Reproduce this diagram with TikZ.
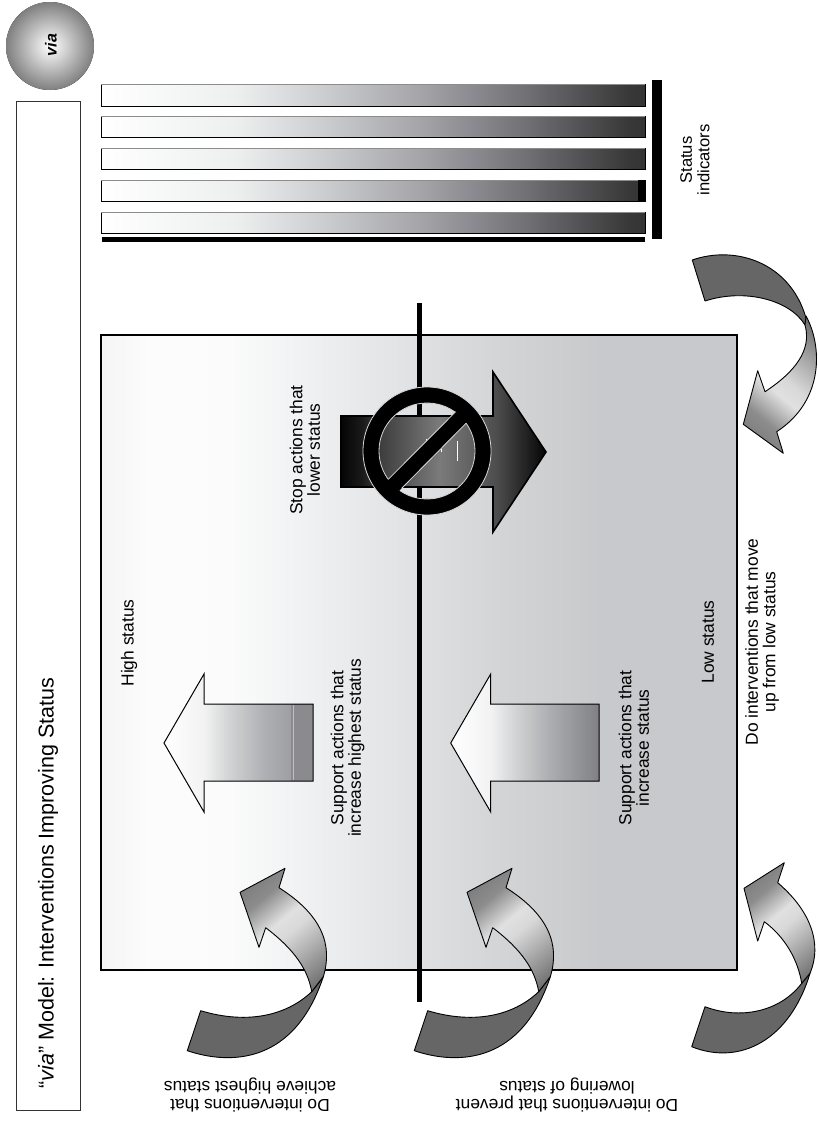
\documentclass[tikz,border=0pt]{standalone}
\usepackage{fontspec}
\setmainfont{Liberation Sans}
% pgf maps a path's box onto the 25bp..75bp part of a shading
\pgfdeclarehorizontalshading{boxshade}{100bp}{rgb(0bp)=(.96,.96,.96); rgb(25bp)=(.96,.96,.96); rgb(29bp)=(.99,.99,.99); rgb(35bp)=(.985,.985,.985); rgb(41bp)=(.94,.945,.95); rgb(50bp)=(.875,.88,.885); rgb(56bp)=(.83,.835,.84); rgb(64bp)=(.785,.79,.80); rgb(100bp)=(.785,.79,.80)}
\pgfdeclarehorizontalshading{barshade}{100bp}{rgb(0bp)=(1,1,1); rgb(25bp)=(1,1,1); rgb(37.5bp)=(.93,.935,.935); rgb(46.5bp)=(.78,.785,.795); rgb(54bp)=(.65,.65,.67); rgb(64bp)=(.44,.44,.46); rgb(73.5bp)=(.22,.22,.22); rgb(75bp)=(.2,.2,.2); rgb(100bp)=(.2,.2,.2)}
\pgfdeclarehorizontalshading{stopshade}{100bp}{rgb(0bp)=(.02,.02,.02); rgb(25bp)=(.02,.02,.02); rgb(30bp)=(.1,.1,.1); rgb(35bp)=(.25,.25,.25); rgb(49bp)=(.48,.48,.48); rgb(63bp)=(.3,.3,.3); rgb(75bp)=(.02,.02,.02); rgb(100bp)=(.02,.02,.02)}
\pgfdeclarehorizontalshading{upshade}{100bp}{rgb(0bp)=(1,1,1); rgb(25bp)=(1,1,1); rgb(38.5bp)=(.95,.95,.95); rgb(47bp)=(.82,.825,.83); rgb(58bp)=(.69,.695,.71); rgb(67.5bp)=(.62,.62,.64); rgb(67.6bp)=(.54,.54,.56); rgb(100bp)=(.54,.54,.56)}
\pgfdeclarehorizontalshading{upshadeb}{100bp}{rgb(0bp)=(1,1,1); rgb(25bp)=(1,1,1); rgb(38.5bp)=(.95,.95,.95); rgb(47bp)=(.82,.825,.83); rgb(58bp)=(.68,.685,.70); rgb(75bp)=(.5,.5,.52); rgb(100bp)=(.5,.5,.52)}
\pgfdeclarehorizontalshading{curveshade}{100bp}{rgb(0bp)=(.45,.45,.45); rgb(24bp)=(.5,.5,.5); rgb(32bp)=(.55,.55,.55); rgb(45bp)=(.88,.88,.88); rgb(52bp)=(.85,.85,.85); rgb(62bp)=(.7,.7,.7); rgb(79bp)=(.43,.43,.43); rgb(100bp)=(.43,.43,.43)}
\definecolor{curvedark}{gray}{.4}
\definecolor{halo}{gray}{.85}
\tikzset{
  x=1pt,y=-1pt,
  lbl/.style={font=\fontsize{17.4}{17.5}\selectfont,align=center,inner sep=0pt,text=black},
  statusbar/.style={draw=black,line width=1pt,shading=barshade},
  bartop/.style={draw=black!45,line width=1pt},
  curveoutline/.style={draw=black,line width=.9pt,line join=round},
  uparrow/.style={draw=black,line width=1pt,line join=miter},
}
\newcommand{\bentarrow}[1]{%
  \begin{scope}[#1]
    \path[curveoutline,fill=curvedark]
      (187.3,1050.7) .. controls (233,1066) and (295,1062) .. (323.3,976.7)
      -- (311.7,991.7) .. controls (285,1017) and (245,1024) .. (200.7,1010.7) -- cycle;
    \path[curveoutline,shading=curveshade,shading angle=-50]
      (323.3,976.7) .. controls (333,945) and (322,915) .. (279,887.7)
      -- (285,868.3) -- (240,892.3) -- (259,947.3) -- (265.7,927.7)
      .. controls (295,950) and (308,970) .. (311.7,991.7) -- cycle;
  \end{scope}}
\begin{document}
\begin{tikzpicture}
\useasboundingbox (0,0) rectangle (817,1122);
\fill[white] (0,0) rectangle (817,1122);

% via badge
\fill[inner color=white,outer color=black!50] (50,46) circle (44);
\node[rotate=90,font=\fontsize{16}{18}\selectfont\bfseries\itshape,inner sep=0pt] (badge) at (51,45) {via};

% title
\node[draw=black!80,line width=.9pt,minimum width=64pt,minimum height=1009pt,inner sep=0pt] (titlebox) at (48,605.5) {};
\node[rotate=90,font=\fontsize{21.5}{24}\selectfont,inner sep=0pt] (title) at (48,883) {“\textit{via}” Model: Interventions Improving Status};

% status bars
\path[statusbar] (101,84) rectangle (645,106);
\draw[bartop] (101,84) -- (645,84);
\path[statusbar] (101,116) rectangle (645,137);
\draw[bartop] (101,116) -- (645,116);
\path[statusbar] (101,148) rectangle (645,169);
\draw[bartop] (101,148) -- (645,148);
\path[statusbar] (101,180) rectangle (645,201);
\draw[bartop] (101,180) -- (645,180);
\fill[black] (638,180) rectangle (645,201);
\path[statusbar] (101,212) rectangle (645,233);
\draw[bartop] (101,212) -- (645,212);
\fill[black] (102,237) rectangle (645,241.5);
\fill[black] (652,80) rectangle (662,239);
\node[lbl,rotate=90,font=\fontsize{16.6}{17.5}\selectfont] (indic) at (695,160) {Status\\indicators};

% main field
\path[draw=black,line width=2.4pt,shading=boxshade] (101,335) rectangle (737,970);
\draw[black,line width=5pt] (419,303) -- (419,1002);

% upward block arrows
\path[uparrow,shading=upshade] (164,743) -- (204,674) -- (204,704) -- (313,704) -- (313,781) -- (204,781) -- (204,812) -- cycle;
\draw[white!75!black,line width=.6pt] (293,705) -- (293,780);
\path[uparrow,shading=upshadeb] (450.7,743) -- (490.7,674) -- (490.7,704) -- (599,704) -- (599,781) -- (490.7,781) -- (490.7,812) -- cycle;

% big stopped arrow
\path[draw=black,line width=1.6pt,shading=stopshade,line join=miter] (341,416) -- (493,416) -- (493,372) -- (546,452) -- (493,532) -- (493,487) -- (341,487) -- cycle;
\draw[white,line width=.6pt] (457.3,441) -- (457.3,461);
\draw[white,line width=.6pt] (441.7,449) -- (441.7,451.5);
\draw[white,line width=.6pt] (426,439) -- (426,441);

% prohibition sign
\path[fill=black,draw=halo,line width=.8pt,even odd rule] (427,451) circle (64) (427,451) circle (48);
\fill[black] (386,481.5) -- (455.7,411.7) -- (468,421) -- (399,491) -- cycle;
\draw[halo,line width=.8pt] (388.3,479.3) -- (455.7,411.7);
\draw[halo,line width=.8pt] (401.7,488.3) -- (466,423.3);

% curved arrows, left pair
\bentarrow{}
\bentarrow{shift={(227,0)}}

% lower right curved arrow
\path[curveoutline,fill=curvedark]
  (691.7,1046.7) .. controls (740,1066) and (790,1040) .. (810,973.3)
  -- (801.7,983.3) .. controls (780,1012) and (740,1020) .. (705,1006.7) -- cycle;
\path[curveoutline,shading=curveshade,shading angle=-50]
  (810,973.3) .. controls (822,945) and (812,912) .. (777.7,882.7)
  -- (784.3,862.7) -- (744,888.3) -- (757.7,941) -- (764.3,921.7)
  .. controls (785,937) and (798,960) .. (801.7,983.3) -- cycle;

% upper right curved arrow
\path[curveoutline,fill=curvedark]
  (692.3,260) .. controls (735,245) and (790,262) .. (806,318)
  -- (805,325) .. controls (790,300) and (745,288) .. (705,301) -- cycle;
\path[curveoutline,shading=curveshade,shading angle=50]
  (806,316) .. controls (822,345) and (825,400) .. (776.7,431.7)
  -- (783.3,453.3) -- (743.3,424.3) -- (757.7,370.7) -- (765,391.7)
  .. controls (795,372) and (812,350) .. (805,325) -- cycle;

% labels
\node[lbl,rotate=90] (high) at (129,643) {High status};
\node[lbl,rotate=90] (low) at (708,642) {Low status};
\node[lbl,rotate=90] (sup1) at (347.5,748) {Support actions that\\increase highest status};
\node[lbl,rotate=90] (sup2) at (634,748) {Support actions that\\increase status};
\node[lbl,rotate=90] (stopa) at (305,450) {Stop actions that\\lower status};
\node[lbl,rotate=90] (dolow) at (762,642) {Do interventions that move\\up from low status};
\node[lbl,rotate=180] (dohigh) at (250,1095) {Do interventions that\\achieve highest status};
\node[lbl,rotate=180] (doprev) at (567,1095) {Do interventions that prevent\\lowering of status};
\end{tikzpicture}
\end{document}
